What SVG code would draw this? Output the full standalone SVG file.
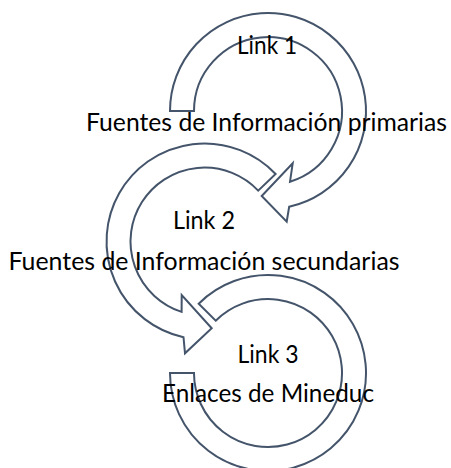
<svg xmlns="http://www.w3.org/2000/svg" width="451" height="468" viewBox="0 0 451 468">
  <style>
    .arrow { fill: none; stroke: #44546A; stroke-width: 2; stroke-linejoin: miter; }
    .lbl { font-family: "Lato", "Open Sans", "Liberation Sans", sans-serif; font-size: 25px; fill: #000000; text-anchor: middle; }
  </style>
  <g id="connectors"></g>
  <g id="node-link1">
    <path class="arrow" d="M 170 111 A 98 98 0 1 1 289.2 206.7 L 286.7 221.7 L 261.7 196 L 292.7 163.3 L 290 181.7 A 74 74 0 1 0 194 111 Z"/>
    <text class="lbl" x="267" y="54" textLength="60" lengthAdjust="spacingAndGlyphs">Link 1</text>
    <text class="lbl" x="266.5" y="131" textLength="361" lengthAdjust="spacingAndGlyphs">Fuentes de Información primarias</text>
  </g>
  <g id="node-link2">
    <path class="arrow" d="M 275.6 174 A 98 98 0 1 0 183.5 337.2 L 185 353.3 L 211.7 328.3 L 181.7 295 L 181.6 311.9 A 74 74 0 1 1 258.2 190.6 Z"/>
    <text class="lbl" x="204" y="229" textLength="62" lengthAdjust="spacingAndGlyphs">Link 2</text>
    <text class="lbl" x="204" y="270" textLength="391" lengthAdjust="spacingAndGlyphs">Fuentes de Información secundarias</text>
  </g>
  <g id="node-link3">
    <path class="arrow" d="M 198.7 303.7 A 98 98 0 1 1 170 373 L 194 373 A 74 74 0 1 0 215.7 320.7 Z"/>
    <text class="lbl" x="268" y="363" textLength="61" lengthAdjust="spacingAndGlyphs">Link 3</text>
    <text class="lbl" x="268" y="402" textLength="212" lengthAdjust="spacingAndGlyphs">Enlaces de Mineduc</text>
  </g>
</svg>
